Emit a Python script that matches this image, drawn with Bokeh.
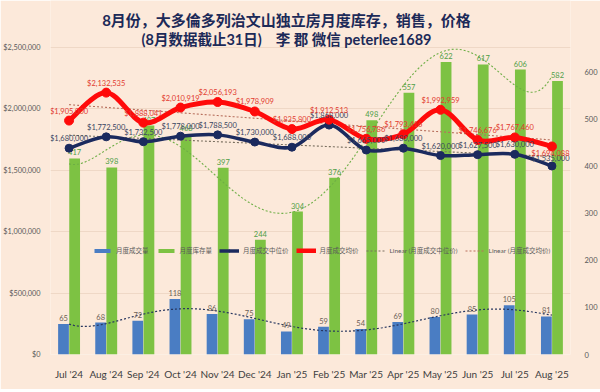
import numpy as np
from bokeh.plotting import figure
from bokeh.models import (ColumnDataSource, Range1d, LinearAxis, NumeralTickFormatter,
                          FixedTicker, Label, Legend, LegendItem, FactorRange)
from bokeh.transform import dodge
from bokeh.core.properties import value
from bokeh.embed import file_html
from bokeh.resources import INLINE

# ---------------- data ----------------
months = ["Jul '24", "Aug '24", "Sep '24", "Oct '24", "Nov '24", "Dec '24", "Jan '25",
          "Feb '25", "Mar '25", "Apr '25", "May '25", "Jun '25", "Jul '25", "Aug '25"]
sales = [65, 68, 72, 118, 86, 75, 49, 59, 54, 69, 80, 85, 105, 81]
inventory = [417, 398, 487, 468, 397, 244, 304, 376, 498, 557, 622, 617, 606, 582]
median_price = [1680000, 1772500, 1732500, 1778000, 1788500, 1730000, 1688000,
                1868000, 1665000, 1680000, 1620000, 1627500, 1630000, 1535000]
avg_price = [1905000, 2132535, 1888041, 2010919, 2056193, 1978909, 1835800,
             1912513, 1756786, 1793416, 1992959, 1746676, 1767460, 1694088]
left_ticks = [0, 500000, 1000000, 1500000, 2000000, 2500000]
right_ticks = [0, 100, 200, 300, 400, 500, 600]

NB = "\u00a0"
title1 = "8月份，大多倫多列治文山独立房月度库存，销售，价格"
title2 = "(8月数据截止31日)" + NB * 4 + "李" + NB + "郡" + NB + "微信" + NB + "peterlee1689"

# ---------------- style ----------------
BG = "#FCE9DA"
GRID = "#EFD8C6"
BLUE = "#4A7DC3"
GREEN = "#7DC243"
NAVY = "#1B2A5E"
RED = "#FF0A0A"
TXT = "#595959"
TITLE = "#1C2A58"
NUMFONT = "Lato"
CJK = "Lato, 'Noto Sans CJK SC'"

# frame spans from the top of the figure; the axes keep 0..2.5M / 0..653 over the lower 307 px
FRAME_H = 354.0
AXIS_H = 307.0

src = ColumnDataSource(dict(
    m=months, sales=sales, inv=inventory, med=median_price, avg=avg_price,
    sales_lbl=[str(v) for v in sales],
    inv_lbl=[str(v) for v in inventory],
    med_lbl=["${:,}".format(v) for v in median_price],
    avg_lbl=["${:,}".format(v) for v in avg_price],
))

p = figure(x_range=FactorRange(*months, range_padding=0, factor_padding=0),
           y_range=Range1d(0, 2500000 * FRAME_H / AXIS_H),
           width=600, height=389, output_backend="svg", toolbar_location=None,
           min_border_left=49, min_border_right=23, min_border_top=0, min_border_bottom=35,
           background_fill_color=BG, border_fill_color=BG, outline_line_color=None)
p.extra_y_ranges = {"cnt": Range1d(0, 653 * FRAME_H / AXIS_H)}

# axes
p.yaxis.ticker = FixedTicker(ticks=left_ticks)
p.yaxis.formatter = NumeralTickFormatter(format="$0,0")
for ax in [p.yaxis[0], p.xaxis[0]]:
    ax.axis_line_color = None
    ax.major_tick_line_color = None
    ax.minor_tick_line_color = None
p.yaxis.major_label_text_font = NUMFONT
p.yaxis.major_label_text_font_size = "7.3px"
p.yaxis.major_label_text_color = TXT
p.yaxis.major_label_standoff = 4

p.xaxis.major_label_text_font = NUMFONT
p.xaxis.major_label_text_font_size = "10px"
p.xaxis.major_label_text_color = "#404040"
p.xaxis.major_label_standoff = 7

rax = LinearAxis(y_range_name="cnt", ticker=FixedTicker(ticks=right_ticks),
                 axis_line_color=None, major_tick_line_color=None, minor_tick_line_color=None,
                 major_label_text_font=NUMFONT, major_label_text_font_size="7.5px",
                 major_label_text_color=TXT, major_label_standoff=8)
p.add_layout(rax, "right")

p.xgrid.grid_line_color = None
p.ygrid.grid_line_color = GRID
p.ygrid.grid_line_width = 1

# bars
xb = dodge("m", -0.15, range=p.x_range)
xg = dodge("m", 0.15, range=p.x_range)
r_blue = p.vbar(x=xb, top="sales", width=0.29, source=src, y_range_name="cnt",
                fill_color=BLUE, line_color=None)
r_green = p.vbar(x=xg, top="inv", width=0.29, source=src, y_range_name="cnt",
                 fill_color=GREEN, line_color=None)

# trend lines (computed from the data, like Excel trendlines)
n = len(months)
xi = np.arange(1, n + 1)
xs = np.linspace(1, n, 300)
inv_fit = np.polyval(np.polyfit(xi, inventory, 6), xs)
sal_fit = np.polyval(np.polyfit(xi, sales, 6), xs)
med_fit = np.polyval(np.polyfit(xi, median_price, 1), xs)
avg_fit = np.polyval(np.polyfit(xi, avg_price, 1), xs)
xplot = xs - 0.5

p.line(xplot, inv_fit, y_range_name="cnt", line_color="#6DAE45", line_width=1.1, line_dash="2 2")
p.line(xplot, sal_fit, y_range_name="cnt", line_color="#27365F", line_width=1.2, line_dash="2 2")
r_lmed = p.line(xplot, med_fit, line_color="#7A7060", line_width=1.1, line_dash="2 2")
r_lavg = p.line(xplot, avg_fit, line_color="#B8705E", line_width=1.1, line_dash="2 2")

# bar labels
p.text(x=xb, y="sales", text="sales_lbl", source=src, y_range_name="cnt",
       text_align="center", text_baseline="bottom", y_offset=-3,
       text_font=value(NUMFONT), text_font_size="7.5px", text_color="#6B5E55")
p.text(x=xg, y="inv", text="inv_lbl", source=src, y_range_name="cnt",
       text_align="center", text_baseline="bottom", y_offset=-3,
       text_font=value(NUMFONT), text_font_size="7.5px", text_color="#4F9E45")


# smoothed lines via Catmull-Rom -> cubic Bezier
def smooth(vals):
    pts = [(i + 0.5, v) for i, v in enumerate(vals)]
    P = [pts[0]] + pts + [pts[-1]]
    x0, y0, x1, y1, cx0, cy0, cx1, cy1 = ([] for _ in range(8))
    for k in range(1, len(P) - 2):
        pa, pb, pc, pd = P[k - 1], P[k], P[k + 1], P[k + 2]
        x0.append(pb[0]); y0.append(pb[1]); x1.append(pc[0]); y1.append(pc[1])
        cx0.append(pb[0] + (pc[0] - pa[0]) / 6); cy0.append(pb[1] + (pc[1] - pa[1]) / 6)
        cx1.append(pc[0] - (pd[0] - pb[0]) / 6); cy1.append(pc[1] - (pd[1] - pb[1]) / 6)
    return dict(x0=x0, y0=y0, x1=x1, y1=y1, cx0=cx0, cy0=cy0, cx1=cx1, cy1=cy1)


r_med_line = p.bezier(source=ColumnDataSource(smooth(median_price)), x0="x0", y0="y0", x1="x1",
                      y1="y1", cx0="cx0", cy0="cy0", cx1="cx1", cy1="cy1",
                      line_color=NAVY, line_width=3.5)
r_med_pts = p.scatter(x="m", y="med", source=src, size=8, fill_color=NAVY, line_color=NAVY)
r_avg_line = p.bezier(source=ColumnDataSource(smooth(avg_price)), x0="x0", y0="y0", x1="x1",
                      y1="y1", cx0="cx0", cy0="cy0", cx1="cx1", cy1="cy1",
                      line_color=RED, line_width=5)
r_avg_pts = p.scatter(x="m", y="avg", source=src, size=9, fill_color=RED, line_color=RED)

# line labels
head = ColumnDataSource(dict(m=months[:-1], med=median_price[:-1], avg=avg_price[:-1],
                             med_lbl=["${:,}".format(v) for v in median_price[:-1]],
                             avg_lbl=["${:,}".format(v) for v in avg_price[:-1]]))
p.text(x="m", y="med", text="med_lbl", source=head, text_align="center", text_baseline="bottom",
       y_offset=-5, text_font=value(NUMFONT), text_font_size="7.5px", text_color="#3A4560")
p.text(x="m", y="avg", text="avg_lbl", source=head, text_align="center", text_baseline="bottom",
       y_offset=-5, text_font=value(NUMFONT), text_font_size="7.5px", text_color="#E23A2E")
# last month's labels, kept inside the frame at its right edge
p.add_layout(Label(x=n, y=median_price[-1], x_offset=-1, y_offset=3,
                   text="${:,}".format(median_price[-1]), text_align="right",
                   text_baseline="bottom", text_font=NUMFONT, text_font_size="7.5px",
                   text_color="#3A4560"))
p.add_layout(Label(x=n, y=avg_price[-1], x_offset=-1, y_offset=-3,
                   text="${:,}".format(avg_price[-1]), text_align="right",
                   text_baseline="top", text_font=NUMFONT, text_font_size="7.5px",
                   text_color="#E23A2E"))

# legend
legend = Legend(items=[
    LegendItem(label="月度成交量", renderers=[r_blue]),
    LegendItem(label="月度库存量", renderers=[r_green]),
    LegendItem(label="月度成交中位价", renderers=[r_med_line, r_med_pts]),
    LegendItem(label="月度成交均价", renderers=[r_avg_line, r_avg_pts]),
    LegendItem(label="Linear (月度成交中位价)", renderers=[r_lmed]),
    LegendItem(label="Linear (月度成交均价)", renderers=[r_lavg]),
], orientation="horizontal", location=(42, 99), background_fill_alpha=0,
    border_line_color=None, label_text_font=CJK, label_text_font_size="6.5px",
    label_text_color=TXT, glyph_width=20, glyph_height=5, spacing=7, padding=0,
    margin=0, label_standoff=4, label_height=8)
p.add_layout(legend)

# title
p.add_layout(Label(x=236, y=335, x_units="screen", y_units="screen", text=title1,
                   text_align="center", text_baseline="middle", text_font=CJK,
                   text_font_size="15px", text_font_style="bold", text_color=TITLE))
p.add_layout(Label(x=236, y=315.5, x_units="screen", y_units="screen", text=title2,
                   text_align="center", text_baseline="middle", text_font=CJK,
                   text_font_size="14.5px", text_font_style="bold", text_color=TITLE))

open("out.html", "w").write(file_html(p, INLINE))
